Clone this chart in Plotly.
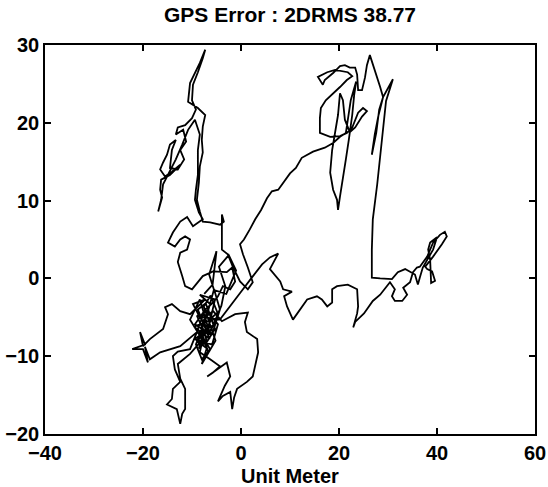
import plotly.graph_objects as go

# GPS error trace (metres), in drawing order
seg_cluster = [(-7.3,-5.3),(-6.3,-3.3),(-8.4,-2.1),(-5.3,-2.7),(-6.7,-6.5),(-9.4,-7.8),(-5.9,-8.5),(-4.7,-5.9),
    (-7.3,-4.0),(-8.8,-6.5),(-6.3,-9.1),(-8.0,-10.4),(-9.2,-8.5),(-6.9,-4.6),(-5.5,-1.4),(-4.3,-4.0),(-5.9,-7.2),
    (-8.4,-5.0),(-9.8,-3.3),(-7.3,-2.7),(-10.4,-4.6),(-12.4,-4.2),(-14.1,-3.3),(-15.5,-3.7),(-14.9,-4.6),(-15.9,-6.5),
    (-18.6,-7.8),(-20.0,-8.7),(-20.6,-6.9),(-19.6,-8.5),(-22.2,-9.1),(-20.0,-9.1),(-19.0,-10.8),(-19.6,-8.8),
    (-18.6,-10.4),(-16.5,-9.5),(-12.4,-8.7),(-9.0,-6.9),(-10.4,-9.1),(-12.9,-9.4),(-13.9,-10.0),(-13.5,-11.7),
    (-12.4,-13.3),(-13.9,-14.2),(-14.1,-15.5),(-15.1,-16.2),(-13.1,-16.8),(-12.4,-18.7),(-12.0,-17.4),(-11.4,-16.8),
    (-11.4,-14.2),(-12.4,-12.9),(-12.9,-11.0),(-10.4,-9.7),(-7.8,-7.8),(-8.4,-9.5),(-6.3,-10.4),(-4.3,-11.3),
    (-5.7,-12.1),(-6.9,-12.6),(-5.3,-11.9),(-2.9,-10.8),(-2.2,-12.6),(-3.3,-13.8),(-4.7,-15.8),(-3.7,-15.1),
    (-2.2,-14.6),(-1.8,-16.8),(-1.4,-15.3),(-0.8,-14.2),(1.2,-13.3),(2.4,-12.6),(3.5,-9.5),(3.3,-7.8),(1.2,-6.9),
    (0.8,-5.6),(1.4,-4.4),(-1.2,-4.6),(-3.9,-5.5),(-5.7,-4.2),(-7.3,-5.0)]

seg_east = [(-4.3,-5.3),(-1.8,-3.3),(0.4,-1.4),(2.2,0.1),(4.3,1.8),(5.9,2.7),(7.6,3.2),(5.9,1.2),(8.0,-0.4),
    (8.6,-1.4),(10.4,-1.7),(8.8,-2.3),(9.4,-3.6),(10.6,-5.3),(12.0,-4.0),(13.5,-2.7),(15.5,-2.3),(16.5,-2.7),
    (17.6,-3.6),(18.6,-3.1),(18.6,-1.4),(19.6,-1.0),(21.8,-0.8),(23.7,-1.4),(23.9,-3.6),(23.7,-4.5),(22.9,-6.3),
    (23.3,-5.6),(25.1,-4.5),(26.9,-2.9),(28.4,-2.1),(30.4,-0.5)]

seg_loops = [(31.4,-1.4),(30.8,-2.3),(31.4,-2.9),(32.9,-2.9),(33.9,-2.1),(33.1,-1.2),(34.5,-0.5),(35.1,0.8),
    (35.9,1.4),(36.5,1.5),(38.0,2.8),(39.2,4.6),(40.6,5.6),(41.6,6.0),(42.0,5.4),(41.0,4.4),(39.2,2.8),(37.6,1.5),
    (38.0,1.2),(39.0,0.9),(39.6,-0.3),(38.8,-0.6),(38.6,2.4),(38.2,3.7),(38.6,4.6),(40.0,5.3),(39.2,3.7),(37.1,1.4),
    (36.5,0.1),(36.1,-0.8),(35.5,0.5),(34.5,0.9),(33.5,1.2),(32.0,0.8),(30.8,-0.1)]

seg_north = [(28.4,0.0),(26.7,0.1),(26.7,3.7),(26.9,7.6),(27.8,12.1),(28.6,16.5),(29.2,20.4),(29.6,22.8),
    (31.0,25.6),(30.0,24.5),(29.0,23.3),(28.0,20.8),(27.3,18.5),(26.7,15.9),(27.6,18.7),(28.2,21.7),(29.0,23.3),
    (28.4,24.6),(27.6,26.2),(26.7,27.8),(26.3,28.7),(25.7,27.4),(25.3,25.8),(24.7,24.2)]

seg_top = [(23.9,24.2),(23.7,26.2),(23.3,27.1),(22.2,27.1),(21.2,27.4),(20.2,27.3),(18.8,26.4),(17.1,25.5),
    (16.7,24.9),(15.7,25.9),(17.6,26.5),(19.2,26.8),(21.8,26.5),(22.7,26.0),(21.6,25.5),(20.2,24.6),(18.8,23.8),
    (17.3,22.9),(16.3,21.9),(16.1,20.6),(16.1,18.7),(18.2,18.2),(20.2,18.3),(21.6,18.7),(22.7,19.4),(23.9,21.3),
    (24.9,21.9),(25.7,21.5),(24.7,20.8),(23.3,19.4),(22.2,18.8),(21.2,20.4),(20.8,22.9),(20.2,23.8),(19.8,21.0),
    (19.2,18.5),(18.6,16.5),(18.2,13.6),(18.8,11.4),(19.6,10.1),(19.8,8.8),(20.2,10.5),(20.8,12.7),(21.4,15.3),
    (22.0,17.8),(22.7,21.0),(23.1,23.6),(23.5,25.3),(22.4,22.9),(21.8,20.4),(21.4,18.7),(20.2,18.2),(18.8,17.4),
    (17.1,16.8),(14.7,16.3),(12.4,15.5),(11.2,14.2),(10.0,13.5),(8.6,12.3),(7.6,11.4),(6.3,11.2),(5.3,10.3),
    (4.1,8.8),(2.9,7.6),(1.8,6.3),(0.6,5.0),(-0.2,4.4)]

seg_west = [(0.4,3.1),(1.4,1.4),(2.4,-0.5),(1.4,-1.4),(-0.2,-0.4),(-1.6,1.4),(-2.7,3.1),(-3.9,3.7),(-3.9,5.6),
    (-3.9,8.2),(-3.5,7.3),(-4.3,6.9),(-6.3,7.2),(-7.8,7.3),(-8.4,8.6),(-9.0,10.1),(-8.6,12.3),(-8.4,14.4),
    (-7.8,16.2),(-8.0,17.8),(-7.8,19.5),(-7.3,21.0),(-8.8,21.9),(-10.8,22.7),(-10.4,25.1),(-9.4,26.4),(-8.4,27.7),
    (-7.3,29.4),(-7.8,28.3),(-8.8,26.5),(-9.8,24.9),(-10.0,22.9),(-9.2,21.7),(-10.0,20.6),
    (-11.4,19.7),(-12.9,19.4),(-13.3,18.5),(-11.8,19.1),(-11.2,17.6),(-12.4,16.5),(-11.6,15.3),(-12.9,14.0),
    (-14.5,14.2),(-14.1,16.5),(-13.3,17.8),(-14.5,17.2),(-15.1,15.9),(-15.9,14.9),(-16.5,14.0),(-15.5,13.1),
    (-14.1,13.7),(-12.4,14.6),(-14.5,13.3),(-16.3,12.7),(-16.5,11.4),(-16.1,10.4),(-16.5,9.5),(-16.9,8.6),
    (-16.3,10.1),(-15.9,12.1),(-14.9,13.3),(-13.3,15.3),(-12.0,17.2),(-10.8,19.1),(-9.4,20.4),(-8.4,18.5),
    (-8.8,16.5),(-8.8,13.3),(-9.2,11.4),(-9.4,10.1),(-8.6,8.5),
    (-7.8,7.6),(-9.8,6.7),(-11.0,7.9),(-12.4,7.3),(-13.9,5.9),(-14.9,4.6),(-13.5,4.1),(-12.4,5.0),(-11.4,5.4),
    (-10.4,5.0),(-11.0,3.7),(-12.4,3.3),(-12.9,2.1),(-12.0,0.3),(-11.4,-1.0),(-10.0,-1.4),(-8.8,-0.5),(-7.8,0.3),
    (-5.7,0.9),(-2.9,0.8),(-1.8,1.4),(-1.2,-0.4),(-2.2,-1.4),(-3.7,-1.0),(-4.7,-2.3),(-5.7,-3.1),
    (-7.3,-4.0),(-9.4,-5.9),(-6.3,-7.2),(-8.4,-2.7),(-10.4,-5.3),(-7.3,-8.5),(-5.3,-6.5),(-6.7,-4.0)]

seg_knot = [(-8.0,-6.0),(-7.0,-8.0),(-8.6,-9.0),(-7.6,-6.8),(-9.0,-4.8),(-6.0,-5.2),(-7.8,-7.4),(-6.6,-9.6),
    (-8.2,-7.0),(-5.6,-6.0),(-7.2,-3.2),(-8.8,-4.0),(-6.4,-7.8),(-9.6,-6.2),(-7.0,-5.6),(-4.8,-4.4),(-6.2,-2.2),
    (-7.6,-3.6),(-5.2,-8.0),(-8.0,-11.0),(-7.0,-9.0),(-9.0,-8.0),(-6.0,-6.5),(-4.0,-3.5),(-3.2,-1.0),(-4.5,1.5),
    (-2.5,3.0),(-1.0,1.0),(-3.0,-2.0),(-5.5,-1.5),(-6.5,0.5),(-5.0,3.5),(-5.8,-0.8),(-7.5,-2.0)]

x_ticks = [-40, -20, 0, 20, 40, 60]
y_ticks = [-20, -10, 0, 10, 20, 30]
title_text = "GPS Error : 2DRMS 38.77"
x_label = "Unit Meter"

path = seg_cluster + seg_east + seg_loops + seg_north + seg_top + seg_west + seg_knot
xs = [p[0] for p in path]
ys = [p[1] for p in path]

FONT = "Liberation Sans, Arial, sans-serif"

fig = go.Figure(go.Scatter(x=xs, y=ys, mode="lines",
                           line=dict(color="black", width=1.8), hoverinfo="skip"))

axis_common = dict(showgrid=False, zeroline=False, showline=True, linecolor="black",
                   linewidth=1.5, mirror="ticks", ticks="inside", ticklen=6, tickwidth=1.5,
                   tickcolor="black", automargin=False,
                   tickfont=dict(family=FONT, size=20, color="black", weight="bold"))

fig.update_layout(
    width=548, height=487,
    margin=dict(l=45, r=13, t=45, b=53, autoexpand=False),
    paper_bgcolor="white", plot_bgcolor="white",
    showlegend=False,
    title=dict(text=title_text, x=0.5, xref="paper", xanchor="center",
               y=1 - 15 / 487, yref="container", yanchor="middle",
               font=dict(family=FONT, size=21, color="black", weight="bold")),
    xaxis=dict(range=[-40, 60], tickvals=x_ticks, **axis_common),
    yaxis=dict(range=[-20, 30], tickvals=y_ticks, **axis_common),
    annotations=[dict(text=x_label, x=0.5, xref="paper", y=-0.108, yref="paper",
                      xanchor="center", yanchor="middle", showarrow=False,
                      font=dict(family=FONT, size=20, color="black", weight="bold"))],
)

fig.write_html("out.html")
